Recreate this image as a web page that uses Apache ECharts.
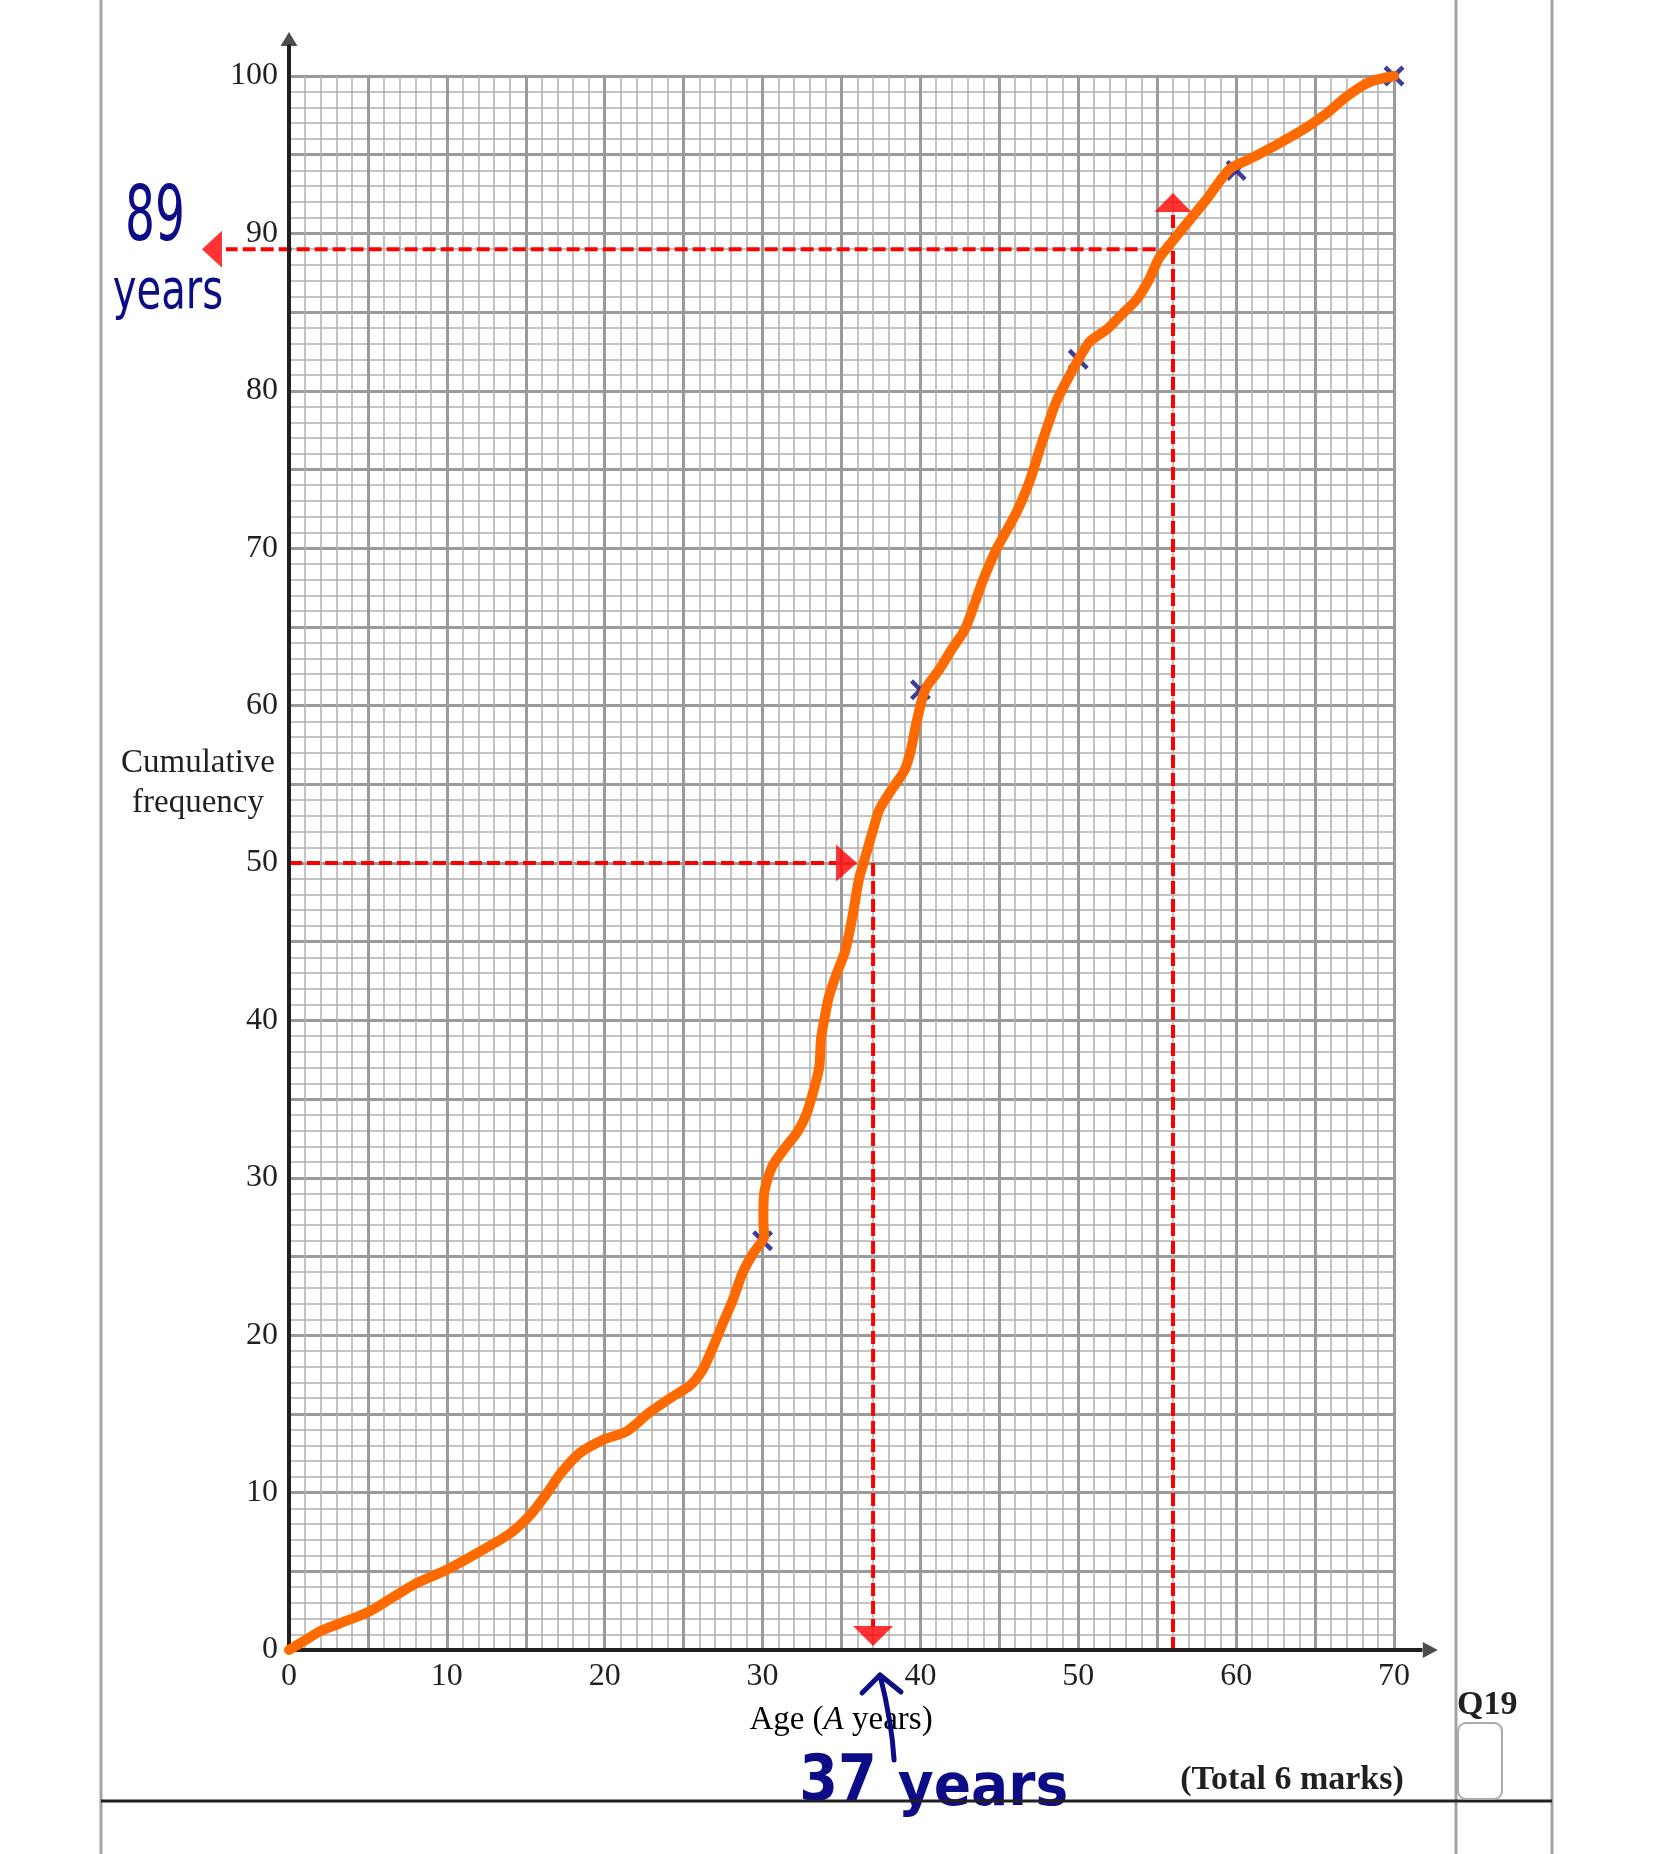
<!DOCTYPE html>
<html><head><meta charset="utf-8">
<script src="https://cdn.jsdelivr.net/npm/echarts@6/dist/echarts.min.js"></script>
<style>html,body{margin:0;padding:0;background:#fff}#c{width:1656px;height:1854px}</style>
</head><body><div id="c"></div>
<script>
// ---- data ----
const xMax = 70, yMax = 100;
const curveAge = [0,1,2,3.5,5,6.5,8,10,12,14,15.3,16.3,17.2,18.4,19.9,21.4,22.85,24.3,25.4,26.2,26.8,27.5,28.1,28.75,29.4,30.1,30.05,30.1,30.6,31.5,32.2,32.8,33.3,33.6,33.7,33.9,34.2,34.7,35.2,35.5,35.8,36.1,36.6,37.0,37.4,38.2,39.0,39.4,39.7,40.1,40.4,41.2,42.0,42.8,43.3,43.9,44.8,46.1,46.9,47.5,48.2,48.6,49.2,49.9,50.7,51.8,52.8,53.7,54.5,55.1,55.8,56.6,58.0,59.6,60.8,62.5,64.4,65.7,67.0,68.4,70];
const curveCumFreq = [0,0.6,1.2,1.8,2.4,3.3,4.2,5.1,6.2,7.4,8.6,9.9,11.2,12.5,13.35,13.9,15.1,16.1,16.8,17.8,19.1,20.8,22.2,24.0,25.2,26.3,27.3,29.0,30.7,32.0,32.9,34.1,35.8,37.1,38.8,40.0,41.5,43.0,44.3,45.6,47.2,48.95,50.7,52.1,53.4,54.7,55.9,57.2,58.7,60.4,61.2,62.3,63.6,64.8,66.1,67.8,69.9,72.3,74.2,76.1,78.2,79.3,80.5,81.8,83.1,83.9,84.9,85.8,87.1,88.4,89.3,90.3,92.0,94.1,94.7,95.6,96.7,97.6,98.7,99.6,100];
const plottedAge = [30,40,50,60,70];
const plottedCumFreq = [26,61,82,94,100];
const medianCF = 50, medianAge = 37;
const readAge = 56, readCF = 89;

// ---- build ----
const FONT = '"Liberation Serif", "Times New Roman", serif';
const INK = '#231f20', NAVY = '#0c0c86', RED = '#ff0000', ORANGE = '#ff6a00';
const pairs = (xs, ys) => xs.map((x, i) => [x, ys[i]]);

function dashed(data) {
  return { type: 'line', data, symbol: 'none', clip: false, z: 3, silent: true,
    lineStyle: { color: RED, width: 4, type: [13, 5] } };
}
function tri(pt, size, rot, color, z) {
  return { type: 'scatter', data: [pt], symbol: 'triangle', symbolSize: size, symbolRotate: rot,
    clip: false, z: z || 4, silent: true, itemStyle: { color: color || RED } };
}
function plain(data, color, width, z, smooth) {
  return { type: 'line', data, symbol: 'none', clip: false, z, silent: true, smooth: smooth || false,
    lineStyle: { color, width, cap: 'round', join: 'round' } };
}

const axisCommon = (max) => ({
  type: 'value', min: 0, max, interval: 5,
  axisLine: { show: false }, axisTick: { show: false },
  axisLabel: { formatter: v => (v % 10 === 0 ? String(v) : ''), fontFamily: FONT, fontSize: 32, color: INK, margin: 11 },
  splitLine: { show: true, lineStyle: { color: '#9a9a9a', width: 3 } },
  minorTick: { show: false, splitNumber: 5 },
  minorSplitLine: { show: true, lineStyle: { color: '#b0b0b0', width: 1.5 } }
});

const CROSS = 'path://M3,0L10,7L17,0L20,3L13,10L20,17L17,20L10,13L3,20L0,17L7,10L0,3Z';

const baseGraphic = [
  { type: 'line', z: 1, shape: { x1: 101, y1: 0, x2: 101, y2: 1854 }, style: { stroke: '#a3a3a3', lineWidth: 3 } },
  { type: 'line', z: 1, shape: { x1: 1456, y1: 0, x2: 1456, y2: 1854 }, style: { stroke: '#a3a3a3', lineWidth: 3 } },
  { type: 'line', z: 1, shape: { x1: 1552, y1: 0, x2: 1552, y2: 1854 }, style: { stroke: '#a3a3a3', lineWidth: 3 } },
  { type: 'line', z: 1, shape: { x1: 101, y1: 1801, x2: 1552, y2: 1801 }, style: { stroke: INK, lineWidth: 3 } },
  { type: 'rect', z: 1, shape: { x: 1458, y: 1723, width: 44, height: 76, r: 8 }, style: { fill: 'none', stroke: '#aaaaaa', lineWidth: 2 } },
  { type: 'text', x: 198, y: 783, style: { text: 'Cumulative\nfrequency', font: '33px ' + FONT, lineHeight: 40, fill: INK, textAlign: 'center', textVerticalAlign: 'middle' } },
  { type: 'text', x: 841, y: 1720, style: { text: '{n|Age (}{i|A}{n| years)}', textAlign: 'center', textVerticalAlign: 'middle',
      rich: { n: { fontFamily: FONT, fontSize: 33, color: INK }, i: { fontFamily: FONT, fontSize: 33, fontStyle: 'italic', color: INK } } } },
  { type: 'text', x: 1457, y: 1705, style: { text: 'Q19', font: 'bold 34px ' + FONT, fill: INK, textAlign: 'left', textVerticalAlign: 'middle' } },
  { type: 'text', x: 1292, y: 1780, style: { text: '(Total 6 marks)', font: 'bold 34px ' + FONT, fill: INK, textAlign: 'center', textVerticalAlign: 'middle' } },
  { type: 'text', x: 155, y: 220, scaleX: 0.62, style: { text: '89', font: '76px "DejaVu Sans"', fill: NAVY, textAlign: 'center', textVerticalAlign: 'middle' } },
  { type: 'text', x: 168, y: 294, scaleX: 0.73, style: { text: 'years', font: '55px "DejaVu Sans"', fill: NAVY, textAlign: 'center', textVerticalAlign: 'middle' } },
  { type: 'text', x: 838, y: 1783, scaleX: 0.87, style: { text: '37', font: 'bold 64px "DejaVu Sans"', fill: NAVY, textAlign: 'center', textVerticalAlign: 'middle' } },
  { type: 'text', x: 983, y: 1790, scaleX: 0.95, style: { text: 'years', font: 'bold 58px "DejaVu Sans"', fill: NAVY, textAlign: 'center', textVerticalAlign: 'middle' } }
];

const option = {
  backgroundColor: '#fff',
  animation: false,
  grid: { left: 289, top: 76, width: 1105, height: 1574 },
  xAxis: axisCommon(xMax),
  yAxis: axisCommon(yMax),
  series: [
    // red construction lines
    dashed([[0, medianCF], [34.65, medianCF]]),
    dashed([[medianAge, medianCF], [medianAge, 1.5]]),
    dashed([[readAge, 0], [readAge, 91.4]]),
    tri([35.32, medianCF], [37, 21], -90),
    tri([medianAge, 0.89], [40, 20], 180),
    tri([readAge, 91.96], [37, 19], 0),
    tri([-4.88, readCF], [37, 20], 90),
    // axes
    plain([[0, 0], [0, 101.9]], INK, 4, 5),
    tri([0, 102.35], [17, 14], 0, INK, 5),
    tri([72.3, 0], [16, 15], -90, INK, 5),
    // plotted crosses
    { type: 'scatter', data: pairs(plottedAge, plottedCumFreq), z: 6, silent: true, clip: false,
      symbol: CROSS, symbolSize: 21, itemStyle: { color: NAVY } },
    // curve
    { type: 'line', data: pairs(curveAge, curveCumFreq), symbol: 'none', smooth: 0.25, clip: false, z: 7, silent: true,
      lineStyle: { color: ORANGE, width: 10, cap: 'round', join: 'round' } },
    // handwritten annotation arrow
    plain([[38.33, -6.99], [38.05, -4.5], [37.44, -1.59]], NAVY, 5, 8, true),
    plain([[36.3, -2.73], [37.44, -1.59], [38.77, -2.67]], NAVY, 5, 8)
  ],
  graphic: baseGraphic
};
const chart = echarts.init(document.getElementById('c'), null, { renderer: 'canvas' });
chart.setOption(option);

// pieces that run outside the x range, placed through the chart's own scales
const px = v => chart.convertToPixel({ gridIndex: 0 }, v);
const h1 = px([54.9, readCF]), h2 = px([-4, readCF]);
const a0 = px([0, 0]), a1 = px([71.8, 0]);
chart.setOption({ graphic: baseGraphic.concat([
  { type: 'line', z: 3, shape: { x1: h1[0], y1: h1[1], x2: h2[0], y2: h2[1] }, style: { stroke: RED, lineWidth: 4, lineDash: [13, 5] } },
  { type: 'line', z: 5, shape: { x1: a0[0], y1: a0[1], x2: a1[0], y2: a1[1] }, style: { stroke: INK, lineWidth: 4 } }
]) });
</script></body></html>
